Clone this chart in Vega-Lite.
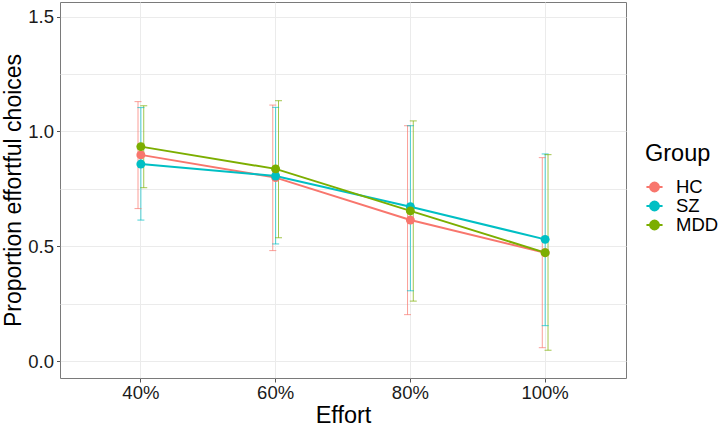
{
  "$schema": "https://vega.github.io/schema/vega-lite/v6.json",
  "autosize": "none",
  "width": 566,
  "height": 376,
  "padding": {"left": 60, "top": 2, "right": 100, "bottom": 49},
  "background": "white",
  "config": {
    "font": "Liberation Sans",
    "view": {"stroke": "#7a7a7a", "strokeWidth": 1},
    "axis": {"labelFont": "Liberation Sans", "titleFont": "Liberation Sans", "labelColor": "#1a1a1a", "titleColor": "#000", "labelFontSize": 18.5, "titleFontSize": 23.5, "titleFontWeight": "normal", "gridColor": "#EBEBEB", "tickColor": "#555", "domain": false}
  },
  "data": {"values": [
    {"effort": "40%", "group": "HC", "mean": 0.898, "lo": 0.664, "hi": 1.130},
    {"effort": "40%", "group": "SZ", "mean": 0.858, "lo": 0.614, "hi": 1.104},
    {"effort": "40%", "group": "MDD", "mean": 0.934, "lo": 0.755, "hi": 1.112},
    {"effort": "60%", "group": "HC", "mean": 0.799, "lo": 0.481, "hi": 1.115},
    {"effort": "60%", "group": "SZ", "mean": 0.806, "lo": 0.510, "hi": 1.105},
    {"effort": "60%", "group": "MDD", "mean": 0.837, "lo": 0.537, "hi": 1.134},
    {"effort": "80%", "group": "HC", "mean": 0.614, "lo": 0.202, "hi": 1.025},
    {"effort": "80%", "group": "SZ", "mean": 0.672, "lo": 0.306, "hi": 1.025},
    {"effort": "80%", "group": "MDD", "mean": 0.654, "lo": 0.261, "hi": 1.046},
    {"effort": "100%", "group": "HC", "mean": 0.472, "lo": 0.058, "hi": 0.886},
    {"effort": "100%", "group": "SZ", "mean": 0.530, "lo": 0.154, "hi": 0.902},
    {"effort": "100%", "group": "MDD", "mean": 0.472, "lo": 0.047, "hi": 0.899}
  ]},
  "encoding": {
    "x": {"field": "effort", "type": "nominal", "sort": ["40%", "60%", "80%", "100%"],
      "scale": {"type": "band", "paddingInner": 0, "paddingOuter": 0.1},
      "axis": {"title": "Effort", "labelAngle": 0, "bandPosition": 0.5, "tickSize": 4, "labelPadding": 1, "titlePadding": 2, "grid": true}},
    "color": {"field": "group", "type": "nominal",
      "scale": {"domain": ["HC", "SZ", "MDD"], "range": ["#F8766D", "#00BFC4", "#7CAE00"]},
      "legend": {"title": "Group", "orient": "none", "legendX": 585, "legendY": 140,
        "titleFontSize": 23.5, "titleFontWeight": "normal", "titleFont": "Liberation Sans", "titleColor": "#000",
        "labelFontSize": 18.5, "labelFont": "Liberation Sans", "labelColor": "#000",
        "symbolType": "M-1,0H1M-0.55,0A0.55,0.55 0 1,1 0.55,0A0.55,0.55 0 1,1 -0.55,0Z",
        "symbolSize": 260, "symbolStrokeWidth": 2, "symbolOpacity": 1, "rowPadding": 0, "titlePadding": 12, "labelOffset": 12}}
  },
  "layer": [
    {
      "mark": {"type": "rule", "strokeWidth": 1, "opacity": 0.7},
      "encoding": {
        "xOffset": {"field": "group", "type": "nominal", "scale": {"type": "point", "domain": ["HC", "SZ", "MDD"], "range": [63.1, 71.7]}},
        "y": {"field": "lo", "type": "quantitative", "scale": {"domain": [-0.074, 1.564], "nice": false, "zero": false},
          "axis": {"values": [0, 0.25, 0.5, 0.75, 1, 1.25, 1.5], "labels": false, "ticks": false, "grid": true, "title": null}},
        "y2": {"field": "hi"}
      }
    },
    {
      "mark": {"type": "tick", "size": 7, "thickness": 1, "opacity": 0.7},
      "encoding": {
        "xOffset": {"field": "group", "type": "nominal", "scale": {"type": "point", "domain": ["HC", "SZ", "MDD"], "range": [63.1, 71.7]}},
        "y": {"field": "lo", "type": "quantitative", "axis": null}
      }
    },
    {
      "mark": {"type": "tick", "size": 7, "thickness": 1, "opacity": 0.7},
      "encoding": {
        "xOffset": {"field": "group", "type": "nominal", "scale": {"type": "point", "domain": ["HC", "SZ", "MDD"], "range": [63.1, 71.7]}},
        "y": {"field": "hi", "type": "quantitative", "axis": null}
      }
    },
    {
      "mark": {"type": "line", "strokeWidth": 2},
      "encoding": {
        "y": {"field": "mean", "type": "quantitative",
          "axis": {"values": [0, 0.5, 1, 1.5], "format": ".1f", "grid": false, "tickSize": 3.5, "labelPadding": 3, "title": "Proportion effortful choices", "titleFontSize": 23, "titlePadding": 2, "orient": "left"}}
      }
    },
    {
      "mark": {"type": "point", "filled": true, "size": 80, "opacity": 1},
      "encoding": {
        "y": {"field": "mean", "type": "quantitative", "axis": null}
      }
    }
  ],
  "resolve": {"axis": {"y": "independent"}}
}
